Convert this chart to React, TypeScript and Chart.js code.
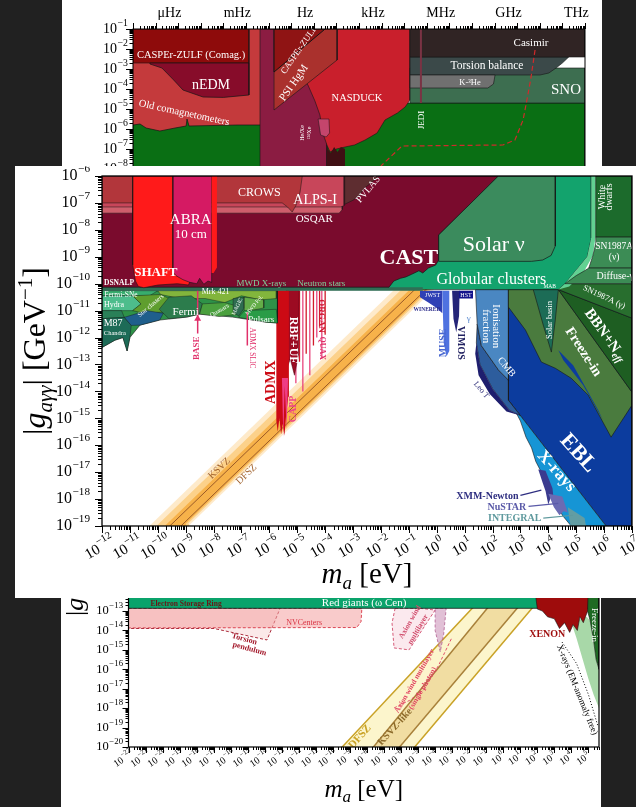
import React, { useEffect, useRef } from 'react';
import { Chart, registerables } from 'chart.js';

Chart.register(...registerables);

const SERIF = '"Liberation Serif", "DejaVu Serif", serif';

// =================== TOP PANEL (log10 m_a [eV], log10 |g_aN| ) ===================
const TOP_X = [-22, -2];
const TOP_Y = [-9, -1];
const HZ_TO_EV = 4.1357e-15;
const TOP_FREQ_EXP = [-6, -3, 0, 3, 6, 9, 12];
const TOP_FREQ_LABELS = ['μHz', 'mHz', 'Hz', 'kHz', 'MHz', 'GHz', 'THz'];

const OLD_COMAG = [[-22, -1], [-16.38, -1], [-16.38, -6.5], [-22, -6.5]];
const GREEN_TOP = [[-22, -5.8], [-21.69, -5.75], [-21.42, -5.95], [-20.81, -6.1], [-20.14, -5.95], [-19.65, -5.85], [-19.61, -5.5], [-19.52, -5.85], [-17.4, -5.8], [-16.38, -5.8], [-12.97, -5.8], [-9.96, -4.7], [-2, -4.7], [-2, -10], [-22, -10]];
const CASPER_COMAG = [[-22, -1], [-16.87, -1], [-16.87, -2.7], [-22, -2.7]];
const NEDM = [[-21.25, -2.7], [-16.87, -2.7], [-16.87, -4.3], [-18.0, -4.42], [-18.9, -4.4], [-19.79, -4.05], [-20.2, -3.55], [-20.72, -2.95], [-21.25, -2.75]];
const XE_BAR = [[-16.38, -1], [-13.42, -1], [-13.42, -10], [-16.38, -10]];
const NASDUCK = [[-12.97, -1], [-9.74, -1], [-9.74, -4.55], [-9.96, -4.9], [-10.3, -5.2], [-10.85, -5.55], [-11.2, -6.2], [-11.73, -6.55], [-12.2, -6.8], [-12.62, -6.9], [-13.0, -7.0], [-13.28, -7.15], [-13.42, -6.8], [-13.6, -6.2], [-13.73, -5.3], [-13.95, -4.6], [-14.26, -3.8], [-14.43, -3.55], [-14.26, -2.55], [-12.97, -2.55]];
const PINK_BLOB = [[-13.81, -5.5], [-13.33, -5.5], [-13.3, -6.2], [-13.45, -6.4], [-13.7, -6.3]];
const DARK_JAG = [[-13.42, -6.95], [-13.25, -7.2], [-13.1, -6.9], [-12.95, -7.15], [-12.8, -6.9], [-12.62, -7.0], [-12.62, -9], [-13.42, -9]];
const PSI_HGM = [[-15.76, -1], [-12.97, -1], [-12.97, -2.55], [-15.76, -5.05]];
const CASPER_ZULF = [[-15.76, -1], [-13.5, -1], [-15.76, -3.15]];
const SNO = [[-9.74, -2.95], [-2, -2.95], [-2, -4.7], [-9.74, -4.7]];
const TORSION = [[-9.74, -2.4], [-2.72, -2.4], [-3.0, -2.7], [-3.28, -2.95], [-3.6, -3.2], [-3.99, -3.3], [-9.74, -3.3]];
const K3HE = [[-9.74, -3.3], [-5.98, -3.3], [-6.05, -3.75], [-6.3, -3.95], [-9.74, -3.95]];
const CASIMIR_REGION = [[-9.74, -1], [-2, -1], [-2, -2.4], [-9.74, -2.4]];
const JEDI = [[-9.26, -1], [-9.26, -4.7]];
const CASIMIR_DASH = [[-4.21, -2.05], [-4.4, -3.5], [-4.57, -4.55], [-4.74, -5.55], [-5.1, -6.55], [-5.63, -6.8], [-10.1, -6.85], [-11.03, -7.85]];

// =================== MIDDLE PANEL (log10 m_a [eV], log10 |g_aγγ| [GeV^-1]) ===================
const MID_X = [-12, 7];
const MID_Y = [-19, -6];

const AXION_GLOW = [[-11, -19.7], [0, -8.7], [0, -10.1], [-9, -19.1]];
const AXION_MID = [[-11, -19.95], [0, -8.95], [0, -10.0], [-8.9, -18.9], [-8.8, -19.2]];
const AXION_CORE = [[-11, -20.25], [0, -9.25], [0, -9.92], [-9.0, -18.92], [-8.9, -19.2]];
const KSVZ_LINE = [[-10, -19.43], [0, -9.43]];
const DFSZ_LINE = [[-10, -19.83], [0, -9.83]];
const HALO_LINES = [[-5.05, -13.7], [-4.92, -12.9], [-4.8, -14.0], [-4.68, -12.6], [-4.55, -13.4], [-4.42, -12.3], [-4.3, -12.0], [-4.2, -11.6], [-4.12, -12.8], [-4.0, -11.9]];
const RBF_UF = [[-5.39, -10.24], [-5.39, -13.2], [-5.25, -12.8], [-5.1, -13.4], [-4.95, -12.6], [-4.93, -10.24]];
const ADMX = [[-5.75, -10.24], [-5.75, -15.1], [-5.7, -15.5], [-5.64, -15.0], [-5.58, -15.6], [-5.52, -15.2], [-5.46, -15.65], [-5.4, -14.9], [-5.32, -14.2], [-5.3, -10.24]];
const CAPP = [[-5.55, -13.5], [-5.5, -15.7], [-5.45, -13.8], [-5.38, -15.4], [-5.33, -13.5]];
const EBL = [[2.57, -10.22], [7, -10.22], [7, -19], [6.07, -19], [2.57, -14.33]];
const XRAYS = [[2.57, -14.33], [6.07, -19], [4.82, -19], [4.5, -18.6], [4.3, -18.1], [4.0, -17.6], [3.75, -17.0], [3.55, -16.6], [3.4, -16.1], [3.2, -15.7], [3.0, -15.1], [2.75, -14.6]];
const XMM = [[3.64, -16.9], [3.9, -16.95], [4.15, -17.6], [4.2, -18.1], [4.1, -17.9], [4.0, -18.2], [3.9, -17.7], [3.8, -17.4]];
const NUSTAR = [[4.0, -17.8], [4.5, -17.9], [4.7, -18.5], [4.55, -18.45], [4.4, -18.6], [4.2, -18.3]];
const INTEGRAL = [[4.7, -18.3], [5.3, -18.7], [5.35, -19], [4.8, -19], [4.75, -18.7]];
const CMB = [[1.45, -11.5], [1.6, -12.3], [2.21, -13.2], [2.57, -13.58], [2.57, -14.33], [3.0, -14.9], [2.6, -14.7], [2.0, -13.9], [1.55, -13.0], [1.42, -12.2]];
const LEO_T = [[1.42, -12.2], [1.55, -13.0], [2.0, -13.9], [2.6, -14.7], [3.0, -14.9], [2.5, -14.75], [1.9, -14.1], [1.5, -13.4], [1.38, -12.6]];
const IONIS = [[1.39, -10.22], [2.57, -10.22], [2.57, -13.58], [2.21, -13.2], [1.6, -12.3], [1.45, -11.5]];
const OLIVE = [[2.57, -10.22], [4.36, -10.22], [7, -14.03], [7, -14.51], [6.25, -15.7], [5.43, -14.14], [4.82, -13.51], [4.25, -13.14], [3.75, -12.91], [3.18, -11.72], [2.57, -10.87]];
const EBL_SLIVER = [[4.36, -12.47], [4.89, -13.03], [5.79, -14.7], [5.96, -15.07], [5.25, -13.77], [4.54, -12.84]];
const SOLAR_BASIN = [[3.46, -10.22], [4.36, -10.22], [4.25, -11.35], [4.11, -12.54], [3.82, -11.54]];
const BBN = [[4.36, -10.22], [7, -11.28], [7, -14.03]];
const SN_GAMMA = [[4.55, -10.0], [7, -10.0], [7, -11.28], [4.36, -10.22]];
const JWST = [[-0.6, -10.26], [0.2, -10.26], [0.2, -11.1], [0.0, -10.9], [-0.3, -10.7], [-0.6, -10.5]];
const MUSE = [[0.2, -10.26], [0.45, -10.26], [0.45, -12.5], [0.35, -12.7], [0.25, -12.2]];
const VIMOS = [[0.55, -10.26], [0.82, -10.26], [0.8, -11.2], [0.7, -11.8], [0.6, -11.3]];
const HST = [[0.8, -10.26], [1.3, -10.26], [1.3, -10.55], [0.8, -10.55]];
const ASTRO_BASE = [[-12, -10.26], [-5.71, -10.26], [-5.71, -11.46], [-6.11, -11.43], [-7.32, -11.24], [-8.5, -11.13], [-8.96, -11.24], [-9.93, -11.35], [-10.64, -11.54], [-11.0, -12.0], [-11.1, -12.5], [-11.25, -12.0], [-11.54, -12.1], [-12, -12.37]];
const MRK421 = [[-10.0, -10.26], [-5.75, -10.26], [-5.75, -10.55], [-6.3, -10.6], [-7.0, -10.45], [-7.6, -10.7], [-8.3, -10.55], [-9.2, -10.55], [-9.9, -10.4]];
const FERMI_SNE = [[-12, -10.26], [-10.0, -10.26], [-10.3, -10.45], [-12, -10.45]];
const HYDRA = [[-12, -10.45], [-10.9, -10.45], [-10.6, -10.75], [-10.9, -11.0], [-12, -11.0]];
const STAR_CLUSTERS = [[-10.9, -10.45], [-9.9, -10.4], [-9.5, -10.6], [-9.8, -11.05], [-10.5, -11.1], [-10.9, -11.0], [-10.6, -10.75]];
const FERMI = [[-9.6, -10.5], [-8.8, -10.45], [-8.4, -10.75], [-8.5, -11.13], [-8.96, -11.24], [-9.6, -11.3], [-9.95, -10.95]];
const QUASARS = [[-8.4, -10.75], [-7.6, -10.7], [-7.1, -10.85], [-7.2, -11.15], [-7.8, -11.22], [-8.5, -11.13]];
const MAGIC = [[-7.3, -10.55], [-6.9, -10.5], [-6.9, -10.9], [-7.1, -11.2], [-7.3, -11.05]];
const MWD_POL = [[-6.9, -10.5], [-6.2, -10.6], [-6.2, -10.9], [-6.9, -11.05]];
const PULSARS = [[-6.9, -11.0], [-5.75, -10.95], [-5.71, -11.46], [-6.11, -11.43], [-7.1, -11.25]];
const M87 = [[-12, -11.0], [-11.3, -11.0], [-11.2, -11.25], [-12, -11.3]];
const CHANDRA = [[-12, -11.3], [-11.2, -11.25], [-10.95, -11.55], [-11.0, -12.0], [-11.1, -12.5], [-11.25, -12.0], [-11.54, -12.1], [-12, -12.37]];
const AGN = [[-11.2, -11.25], [-10.4, -11.0], [-9.8, -11.1], [-9.93, -11.35], [-10.64, -11.54], [-10.95, -11.55]];
const GLOBULAR = [[-12, -6], [5.54, -6], [5.54, -8.3], [5.4, -9.0], [5.0, -9.5], [4.6, -10.0], [4.36, -10.22], [-12, -10.22]];
const STRIPE = [[5.54, -6], [5.7, -6], [5.7, -8.2], [5.6, -8.95], [5.25, -9.6], [4.75, -10.1], [4.36, -10.22], [4.6, -10.0], [5.0, -9.5], [5.4, -9.0], [5.54, -8.3]];
const WHITE_DWARFS = [[5.7, -6], [7, -6], [7, -8.27], [5.7, -8.27]];
const SN_NU = [[5.7, -8.27], [7, -8.27], [7, -9.42], [5.45, -9.42], [5.6, -8.95], [5.7, -8.5]];
const DIFFUSE = [[5.45, -9.42], [7, -9.42], [7, -10.0], [4.6, -10.0], [5.0, -9.7], [5.25, -9.55]];
const BAND_NS = [[-12, -10.13], [-0.5, -10.13], [-0.5, -10.26], [-12, -10.26]];
const CAST = [[-12, -6], [2.21, -6], [0.07, -8.19], [0.07, -9.12], [-0.04, -9.31], [-0.3, -9.42], [-0.5, -9.6], [-0.64, -9.52], [-0.9, -9.65], [-1.11, -9.75], [-1.3, -9.8], [-1.54, -9.9], [-1.71, -10.13], [-12, -10.13]];
const SOLAR_NU = [[0.07, -8.19], [2.21, -6], [4.25, -6], [4.25, -8.6], [4.1, -8.95], [3.8, -9.12], [3.4, -9.17], [0.07, -9.17]];
const OSQAR = [[-12, -6], [-3.39, -6], [-3.39, -7.25], [-3.5, -7.38], [-12, -7.38]];
const ALPS = [[-12, -6], [-3.32, -6], [-3.32, -7.1], [-3.45, -7.15], [-12, -7.15]];
const CROWS = [[-12, -6], [-4.82, -6], [-4.9, -6.6], [-5.05, -7.1], [-5.18, -7.34], [-5.35, -7.15], [-5.54, -7.0], [-12, -7.0]];
const PVLAS = [[-3.3, -6], [-2.07, -6], [-2.4, -6.3], [-2.6, -6.45], [-2.8, -6.75], [-3.0, -6.9], [-3.3, -7.05]];
const SHAFT = [[-10.9, -6], [-10.9, -9.3], [-10.8, -9.9], [-10.7, -10.1], [-10.5, -10.15], [-10.0, -10.05], [-9.3, -10.0], [-8.9, -10.05], [-8.8, -9.8], [-8.8, -6]];
const ABRA = [[-9.46, -6], [-9.46, -9.55], [-9.35, -9.7], [-9.1, -9.85], [-8.85, -9.95], [-8.6, -10.0], [-8.5, -9.8], [-8.35, -10.02], [-8.2, -9.9], [-8.07, -9.95], [-8.07, -6]];
const SLIVER = [[-8.07, -6], [-7.88, -6], [-7.88, -9.4], [-8.0, -9.6], [-8.07, -9.6]];
const BASE_LINE = [[-8.57, -10.26], [-8.57, -11.85]];
const BASE_ARROW = [[-8.57, -11.3]];
const SLIC_LINE = [[-6.79, -11.05], [-6.79, -12.3]];
const XMM_LEAD = [[3.0, -17.86], [3.75, -17.67]];
const NUSTAR_LEAD = [[3.29, -18.27], [4.36, -18.16]];
const INTEGRAL_LEAD = [[3.82, -18.71], [4.89, -18.6]];

// =================== BOTTOM PANEL (log10 m_a [eV], log10 |g_ae|) ===================
const BOT_X = [-22, 5.62];
const BOT_Y = [-20, -12];
const DFSZ_BAND = [[-9.99, -20.5], [-0.9, -12], [2.52, -12], [-5.68, -20.5]];
const KSVZ_BAND = [[-8.09, -20.5], [-0.13, -12], [1.65, -12], [-6.57, -20.5]];
const LINE_A = [[-9.99, -20.5], [-0.9, -12]];
const LINE_B = [[-8.09, -20.5], [-0.13, -12]];
const LINE_C = [[-6.57, -20.5], [1.65, -12]];
const LINE_D = [[-5.68, -20.5], [2.52, -12]];
const TORSION_P = [[-22, -12.86], [-13.1, -12.86], [-13.87, -14.49], [-16.98, -13.9], [-22, -13.9]];
const NV_CENTERS = [[-22, -12.86], [-8.3, -12.86], [-8.35, -13.55], [-8.6, -13.85], [-22, -13.87]];
const AXION_WIND = [[-6.35, -12.86], [-4.88, -12.86], [-4.0, -12.95], [-5.53, -15.0], [-6.41, -14.9], [-6.53, -13.62]];
const PURPLE = [[-4.0, -12.86], [-3.35, -12.86], [-3.5, -14.2], [-3.7, -15.1], [-4.0, -14.0]];
const AXION_WIND_SP = [[-6.41, -17.99], [-5.5, -17.6], [-4.65, -17.05], [-3.8, -15.8], [-3.0, -14.34]];
const RED_GIANTS = [[-22, -11.5], [5.62, -11.5], [5.62, -12.86], [-22, -12.86]];
const XRAYS_B = [[4.0, -13.6], [4.9, -13.3], [5.1, -13.5], [5.3, -14.5], [5.45, -15.5], [5.62, -16.0], [5.62, -18.0], [5.3, -17.3], [5.0, -16.5], [4.6, -15.3], [4.3, -14.4]];
const FREEZE_B = [[4.9, -11.5], [5.62, -11.5], [5.62, -16.0], [5.45, -15.5], [5.3, -14.5], [5.1, -13.5], [4.95, -13.0]];
const XRAYS_DOT = [[3.45, -14.6], [4.3, -15.7], [5.0, -17.3], [5.57, -18.96]];
const XENON = [[1.8, -11.5], [5.0, -11.5], [4.95, -13.0], [4.7, -13.6], [4.5, -13.3], [4.35, -14.0], [4.1, -13.7], [3.9, -14.1], [3.6, -13.6], [3.3, -13.9], [3.0, -13.4], [2.6, -13.3], [2.3, -13.0], [2.0, -12.9]];

// ---------------- types & helpers ----------------
type Region = { d: number[][]; f?: string; b?: string; w?: number; dash?: number[]; pt?: string; pr?: number };
type Lab = { t: string; x: number; y: number; s: number; c?: string; r?: number; b?: boolean; al?: string; sub?: string; it?: boolean };
type Part = { t: string; s: number; it?: boolean; dy?: number };

const B = '#151515';

const TOP_REGIONS: Region[] = [
  { d: OLD_COMAG, f: '#c43a3c' },
  { d: GREEN_TOP, f: '#0a6f14', b: B, w: 0.7 },
  { d: CASPER_COMAG, f: '#8e0b0b', b: B, w: 0.6 },
  { d: NEDM, f: '#870c2a', b: B, w: 0.7 },
  { d: XE_BAR, f: '#8b1c42', b: B, w: 0.6 },
  { d: NASDUCK, f: '#c91f2c', b: B, w: 0.6 },
  { d: PINK_BLOB, f: '#c4456c', b: B, w: 0.5 },
  { d: DARK_JAG, f: '#3f0f14' },
  { d: PSI_HGM, f: '#aa312d', b: B, w: 0.6 },
  { d: CASPER_ZULF, f: '#8f1414', b: B, w: 1 },
  { d: SNO, f: '#3d6e50', b: B, w: 0.6 },
  { d: TORSION, f: '#3b4949', b: B, w: 0.6 },
  { d: K3HE, f: '#707070', b: B, w: 0.6 },
  { d: CASIMIR_REGION, f: '#302424', b: B, w: 0.6 },
  { d: JEDI, b: '#7a3344', w: 2 },
  { d: CASIMIR_DASH, b: '#d02a2a', w: 1.2, dash: [5, 3] },
];

const MID_REGIONS: Region[] = [
  { d: AXION_GLOW, f: 'rgba(253,214,150,0.5)' },
  { d: AXION_MID, f: 'rgba(250,192,95,0.6)' },
  { d: AXION_CORE, f: '#f7b24a' },
  { d: KSVZ_LINE, b: '#9a5a28', w: 1 },
  { d: DFSZ_LINE, b: '#9a5a28', w: 1 },
  ...HALO_LINES.map((h, i) => ({ d: [[h[0], -10.26], [h[0], h[1]]], b: i % 2 ? '#d11a2a' : '#e8457d', w: 1.3 })),
  { d: RBF_UF, f: '#9c0b22', b: '#4a0010', w: 0.5 },
  { d: ADMX, f: '#cc0a14' },
  { d: CAPP, f: '#ee3d84' },
  { d: EBL, f: '#0c3c9e', b: B, w: 0.6 },
  { d: XRAYS, f: '#1695d5', b: B, w: 0.6 },
  { d: XMM, f: '#3b3b8f' },
  { d: NUSTAR, f: '#6b6bb3' },
  { d: INTEGRAL, f: '#629da3' },
  { d: CMB, f: '#2d5d9d', b: B, w: 0.6 },
  { d: LEO_T, f: '#1e1e6e' },
  { d: IONIS, f: '#4a87c2', b: B, w: 0.6 },
  { d: OLIVE, f: '#4a7b3e', b: B, w: 0.6 },
  { d: EBL_SLIVER, f: '#0c3c9e' },
  { d: SOLAR_BASIN, f: '#1c6c56', b: B, w: 0.6 },
  { d: BBN, f: '#1e5e22', b: B, w: 0.6 },
  { d: SN_GAMMA, f: '#286e2e', b: B, w: 0.6 },
  { d: JWST, f: '#2f40b5' },
  { d: MUSE, f: '#4f72e0' },
  { d: VIMOS, f: '#252578' },
  { d: HST, f: '#12128c' },
  { d: ASTRO_BASE, f: '#2e9248', b: B, w: 0.6 },
  { d: MRK421, f: '#82b53c', b: B, w: 0.4 },
  { d: FERMI_SNE, f: '#38ad6e', b: B, w: 0.4 },
  { d: HYDRA, f: '#4dbd8c', b: B, w: 0.4 },
  { d: STAR_CLUSTERS, f: '#5f9e2e', b: B, w: 0.4 },
  { d: FERMI, f: '#2c7c4c', b: B, w: 0.4 },
  { d: QUASARS, f: '#4aa03e', b: B, w: 0.4 },
  { d: MAGIC, f: '#2e6d50', b: B, w: 0.4 },
  { d: MWD_POL, f: '#63ad48', b: B, w: 0.4 },
  { d: PULSARS, f: '#2a9c47', b: B, w: 0.4 },
  { d: M87, f: '#2a8058', b: B, w: 0.4 },
  { d: CHANDRA, f: '#1d6b57', b: B, w: 0.4 },
  { d: AGN, f: '#1f5f8c', b: B, w: 0.4 },
  { d: GLOBULAR, f: '#13a36d', b: B, w: 0.6 },
  { d: STRIPE, f: '#62d192' },
  { d: WHITE_DWARFS, f: '#1c6b2c', b: B, w: 0.6 },
  { d: SN_NU, f: '#3c8c55', b: B, w: 0.6 },
  { d: DIFFUSE, f: '#3c8c55', b: B, w: 0.6 },
  { d: BAND_NS, f: '#2f6f55' },
  { d: CAST, f: '#7a0b2d', b: B, w: 0.7 },
  { d: SOLAR_NU, f: '#3b8b5d', b: B, w: 0.7 },
  { d: OSQAR, f: '#cf5e6c', b: B, w: 0.5 },
  { d: ALPS, f: '#c8465a', b: B, w: 0.5 },
  { d: CROWS, f: '#b2363b', b: B, w: 0.5 },
  { d: PVLAS, f: '#5e2d30', b: B, w: 0.5 },
  { d: SHAFT, f: '#ff1a1a', b: B, w: 0.6 },
  { d: ABRA, f: '#d51a63', b: B, w: 0.6 },
  { d: SLIVER, f: '#ff1a1a' },
  { d: BASE_LINE, b: '#e0306a', w: 1.5 },
  { d: BASE_ARROW, b: '#e0306a', pt: 'triangle', pr: 4 },
  { d: SLIC_LINE, b: '#e0306a', w: 1.5 },
  { d: XMM_LEAD, b: '#2e2e80', w: 1.2 },
  { d: NUSTAR_LEAD, b: '#5a5aa8', w: 1.2 },
  { d: INTEGRAL_LEAD, b: '#5f9a9e', w: 1.2 },
];

const BOT_REGIONS: Region[] = [
  { d: DFSZ_BAND, f: '#fcf5cc' },
  { d: KSVZ_BAND, f: '#f1dda2' },
  { d: LINE_A, b: '#c9a227', w: 1.5 },
  { d: LINE_D, b: '#c9a227', w: 1.5 },
  { d: LINE_B, b: '#a8803a', w: 1.5 },
  { d: LINE_C, b: '#a8803a', w: 1.5 },
  { d: TORSION_P, f: 'rgba(250,225,225,0.75)', b: '#a3182a', w: 0.9, dash: [3, 2] },
  { d: NV_CENTERS, f: 'rgba(244,160,160,0.55)', b: '#d83545', w: 0.9, dash: [3, 2] },
  { d: AXION_WIND, f: 'rgba(250,225,232,0.75)', b: '#d04a6a', w: 0.9, dash: [3, 2] },
  { d: PURPLE, f: 'rgba(200,140,180,0.55)', b: '#b06090', w: 0.8, dash: [3, 2] },
  { d: AXION_WIND_SP, b: '#e04060', w: 0.9, dash: [3, 2] },
  { d: RED_GIANTS, f: '#0aa36b', b: B, w: 0.8 },
  { d: XRAYS_B, f: '#a8d8a8' },
  { d: FREEZE_B, f: '#1e6a23', b: B, w: 0.6 },
  { d: XRAYS_DOT, b: '#000', w: 1, dash: [1, 2] },
  { d: XENON, f: '#9e0c0c', b: B, w: 0.6 },
];

const TOP_LABELS: Lab[] = [
  { t: 'CASPEr-ZULF (Comag.)', x: -19.43, y: -2.3, s: 10.5 },
  { t: 'nEDM', x: -18.55, y: -3.8, s: 14 },
  { t: 'Old comagnetometers', x: -19.74, y: -5.2, s: 10.5, r: 12 },
  { t: 'CASPEr-ZULF', x: -14.65, y: -2.05, s: 9, r: -55 },
  { t: 'PSI HgM', x: -14.88, y: -3.7, s: 11, r: -55 },
  { t: 'NASDUCK', x: -12.09, y: -4.45, s: 10.5 },
  { t: 'JEDI', x: -9.21, y: -5.55, s: 9, r: -90 },
  { t: 'Casimir', x: -4.39, y: -1.7, s: 11 },
  { t: 'Torsion balance', x: -6.34, y: -2.85, s: 11.5 },
  { t: 'K-³He', x: -7.09, y: -3.7, s: 8.5 },
  { t: 'SNO', x: -2.84, y: -4.05, s: 15 },
  { t: 'He/Xe', x: -14.5, y: -6.2, s: 6, r: -90 },
  { t: '¹²⁹Xe', x: -14.2, y: -6.2, s: 6, r: -90 },
];

const MID_LABELS: Lab[] = [
  { t: 'CROWS', x: -6.36, y: -6.62, s: 12 },
  { t: 'ALPS-I', x: -4.36, y: -6.9, s: 14 },
  { t: 'OSQAR', x: -4.39, y: -7.6, s: 11 },
  { t: 'PVLAS', x: -2.45, y: -6.5, s: 10, r: -50 },
  { t: 'CAST', x: -1.0, y: -9.05, s: 22, b: true },
  { t: 'Solar ν', x: 2.04, y: -8.57, s: 22 },
  { t: 'Globular clusters', x: 1.96, y: -9.85, s: 16 },
  { t: 'White', x: 5.93, y: -6.78, s: 10, r: -90 },
  { t: 'dwarfs', x: 6.18, y: -6.78, s: 10, r: -90 },
  { t: 'SN1987A', x: 6.36, y: -8.62, s: 9.5 },
  { t: '(ν)', x: 6.36, y: -9.02, s: 9.5 },
  { t: 'Diffuse-γ', x: 6.4, y: -9.72, s: 10 },
  { t: 'SN1987A (γ)', x: 6.0, y: -10.5, s: 8.5, r: 25 },
  { t: 'BBN+N', sub: 'eff', x: 6.04, y: -11.91, s: 15, b: true, r: 54 },
  { t: 'Freeze-in', x: 5.25, y: -12.54, s: 14, b: true, r: 57 },
  { t: 'Solar basin', x: 4.04, y: -11.35, s: 8.5, r: -90 },
  { t: 'MAB', x: 4.05, y: -10.1, s: 5.5 },
  { t: 'Ionisation', x: 2.11, y: -11.58, s: 11, r: 90 },
  { t: 'fraction', x: 1.75, y: -11.58, s: 11, r: 90 },
  { t: 'CMB', x: 2.5, y: -13.1, s: 10, r: 50 },
  { t: 'Leo T', x: 1.6, y: -13.95, s: 8, r: 50, c: '#1f1f70' },
  { t: 'EBL', x: 5.07, y: -16.3, s: 22, b: true, r: 48 },
  { t: 'X-rays', x: 4.29, y: -16.97, s: 17, b: true, r: 48 },
  { t: 'XMM-Newton', x: 2.93, y: -17.9, s: 10, b: true, c: '#2e2e80', al: 'right' },
  { t: 'NuSTAR', x: 3.21, y: -18.3, s: 10, b: true, c: '#5a5aa8', al: 'right' },
  { t: 'INTEGRAL', x: 3.75, y: -18.71, s: 10, b: true, c: '#5f9a9e', al: 'right' },
  { t: 'MUSE', x: 0.25, y: -12.2, s: 10, r: -90, c: '#4a68d0', b: true },
  { t: 'VIMOS', x: 0.85, y: -12.2, s: 10, r: 90, c: '#202060', b: true },
  { t: 'JWST', x: -0.15, y: -10.42, s: 6 },
  { t: 'HST', x: 1.05, y: -10.42, s: 6 },
  { t: 'WINERED', x: -0.35, y: -10.98, s: 5.5, c: '#2a2a8a', b: true },
  { t: 'γ', x: 1.15, y: -11.3, s: 9, c: '#5a8ad0' },
  { t: 'SHAFT', x: -10.07, y: -9.6, s: 13, b: true },
  { t: 'ABRA', x: -8.82, y: -7.64, s: 15 },
  { t: '10 cm', x: -8.82, y: -8.16, s: 13 },
  { t: 'DSNALP', x: -11.39, y: -9.98, s: 7.5, b: true },
  { t: 'MWD X-rays', x: -6.29, y: -9.98, s: 9, c: '#7fd49d' },
  { t: 'Neutron stars', x: -4.14, y: -9.98, s: 9, c: '#7fd49d' },
  { t: 'Fermi-SNe', x: -11.32, y: -10.42, s: 7.5 },
  { t: 'Hydra', x: -11.57, y: -10.8, s: 8 },
  { t: 'Star clusters', x: -10.25, y: -10.82, s: 6.5, r: -40 },
  { t: 'M87', x: -11.6, y: -11.47, s: 10 },
  { t: 'Chandra', x: -11.54, y: -11.84, s: 6.5 },
  { t: 'Mrk 421', x: -7.93, y: -10.31, s: 8 },
  { t: 'Fermi', x: -9.0, y: -11.06, s: 11 },
  { t: 'Quasars', x: -7.79, y: -11.0, s: 6.5, r: -30 },
  { t: 'MAGIC', x: -7.15, y: -10.85, s: 5.5, r: -65 },
  { t: 'MWD Pol.', x: -6.54, y: -10.8, s: 5.5, r: -50 },
  { t: 'Pulsars', x: -6.29, y: -11.35, s: 9 },
  { t: 'BASE', x: -8.6, y: -12.4, s: 9, r: -90, c: '#e0306a', b: true },
  { t: 'ADMX SLIC', x: -6.62, y: -12.39, s: 7.5, r: 90, c: '#e0306a' },
  { t: 'ADMX', x: -5.93, y: -13.66, s: 14, r: -90, c: '#cc0a14', b: true },
  { t: 'CAPP', x: -5.15, y: -14.65, s: 10, r: -90, c: '#ee4488', b: true },
  { t: 'RBF+UF', x: -5.15, y: -12.1, s: 12, r: 90, b: true },
  { t: 'ORGAN', x: -4.14, y: -11.2, s: 9, r: 90, c: '#d01830', b: true },
  { t: 'QUAX', x: -4.1, y: -12.4, s: 8, r: 90, c: '#e0306a', b: true },
  { t: 'KSVZ', x: -7.79, y: -16.86, s: 10, r: -44, c: '#a0622d' },
  { t: 'DFSZ', x: -6.82, y: -17.08, s: 10, r: -44, c: '#a0622d' },
];

const BOT_LABELS: Lab[] = [
  { t: 'Red giants (ω Cen)', x: -8.17, y: -12.6, s: 11 },
  { t: 'Electron Storage Ring', x: -18.62, y: -12.62, s: 7.5, b: true, c: '#6a1616' },
  { t: 'NVCenters', x: -11.69, y: -13.62, s: 8, c: '#d83545' },
  { t: 'Torsion', x: -15.2, y: -14.45, s: 8, r: 15, c: '#a3182a', b: true },
  { t: 'pendulum', x: -14.9, y: -14.95, s: 8, r: 15, c: '#a3182a', b: true },
  { t: 'Axion wind', x: -5.47, y: -13.57, s: 7.5, r: -60, c: '#d04a6a', b: true },
  { t: 'multilayer', x: -5.0, y: -13.95, s: 7.5, r: -60, c: '#d04a6a', b: true },
  { t: 'Axion wind multilayer', x: -5.2, y: -16.6, s: 7.5, r: -60, c: '#e04060', b: true },
  { t: '(single photon)', x: -4.72, y: -16.98, s: 7.5, r: -60, c: '#e04060', b: true },
  { t: 'DFSZ', x: -8.41, y: -19.48, s: 11, r: -48, c: '#c9a227', b: true },
  { t: 'KSVZ-like', x: -6.35, y: -18.96, s: 10, r: -48, c: '#8c6a2a', b: true },
  { t: 'XENON', x: 2.58, y: -14.23, s: 10, b: true, c: '#9e0c0c' },
  { t: 'X-rays (EM-anomaly free)', x: 4.33, y: -17.06, s: 9, r: 68, c: '#000' },
  { t: 'Freeze-in', x: 5.33, y: -13.72, s: 9, r: 90 },
];

// ---------------- drawing helpers ----------------
function toDataset(r: Region) {
  const pts = r.d.map(([a, b]) => ({ x: Math.pow(10, a), y: Math.pow(10, b) }));
  if (r.f && r.b) pts.push({ ...pts[0] });
  return {
    data: pts,
    fill: r.f ? 'shape' : false,
    backgroundColor: r.f || 'rgba(0,0,0,0)',
    borderColor: r.b || 'rgba(0,0,0,0)',
    borderWidth: r.b ? (r.w ?? 0.7) : 0,
    borderDash: r.dash || [],
    pointRadius: r.pr || 0,
    pointStyle: r.pt || 'circle',
    pointBackgroundColor: r.b || r.f || '#000',
    pointBorderWidth: 0,
    tension: 0,
  };
}

function drawLabel(ctx: CanvasRenderingContext2D, L: Lab, px: number, py: number) {
  const font = (s: number, it = false) => `${it || L.it ? 'italic ' : ''}${L.b ? 'bold ' : ''}${s}px ${SERIF}`;
  ctx.save();
  ctx.translate(px, py);
  if (L.r) ctx.rotate((L.r * Math.PI) / 180);
  ctx.font = font(L.s);
  const w1 = ctx.measureText(L.t).width;
  let w2 = 0;
  if (L.sub) {
    ctx.font = font(L.s * 0.65, true);
    w2 = ctx.measureText(L.sub).width;
  }
  const W = w1 + w2;
  const al = L.al || 'center';
  const x0 = al === 'center' ? -W / 2 : al === 'right' ? -W : 0;
  ctx.fillStyle = L.c || '#fff';
  ctx.textBaseline = 'middle';
  ctx.textAlign = 'left';
  ctx.font = font(L.s);
  ctx.fillText(L.t, x0, 0);
  if (L.sub) {
    ctx.font = font(L.s * 0.65, true);
    ctx.fillText(L.sub, x0 + w1, L.s * 0.3);
  }
  ctx.restore();
}

function drawPow(ctx: CanvasRenderingContext2D, n: number, x: number, y: number, base: number, align: string, rot: number) {
  const exp = n < 0 ? '−' + Math.abs(n) : String(n);
  const es = base * 0.7;
  ctx.font = `${base}px ${SERIF}`;
  const w1 = ctx.measureText('10').width;
  ctx.font = `${es}px ${SERIF}`;
  const w2 = ctx.measureText(exp).width;
  const W = w1 + w2 + 0.5;
  ctx.save();
  ctx.translate(x, y);
  ctx.rotate((-rot * Math.PI) / 180);
  const x0 = align === 'right' ? -W : -W / 2;
  ctx.textAlign = 'left';
  ctx.textBaseline = 'middle';
  ctx.fillStyle = '#000';
  ctx.font = `${base}px ${SERIF}`;
  ctx.fillText('10', x0, 0);
  ctx.font = `${es}px ${SERIF}`;
  ctx.fillText(exp, x0 + w1 + 0.5, -base * 0.42);
  ctx.restore();
}

function drawRich(ctx: CanvasRenderingContext2D, parts: Part[], x: number, y: number, rot: number, align: string) {
  const fnt = (p: Part) => `${p.it ? 'italic ' : ''}${p.s}px ${SERIF}`;
  let W = 0;
  const ws = parts.map((p) => {
    ctx.font = fnt(p);
    const w = ctx.measureText(p.t).width;
    W += w;
    return w;
  });
  ctx.save();
  ctx.translate(x, y);
  ctx.rotate((rot * Math.PI) / 180);
  let cx = align === 'center' ? -W / 2 : 0;
  ctx.textAlign = 'left';
  ctx.textBaseline = 'alphabetic';
  ctx.fillStyle = '#000';
  parts.forEach((p, i) => {
    ctx.font = fnt(p);
    ctx.fillText(p.t, cx, p.dy || 0);
    cx += ws[i];
  });
  ctx.restore();
}

type Panel = {
  w: number; h: number; xr: number[]; yr: number[]; pad: any; xH: number; yW: number; xPos: 'top' | 'bottom';
  regions: Region[]; labels: Lab[]; frame: number;
  tick: { xMaj: number; xMin: number; yMaj: number; yMin: number };
  decorate: (ctx: CanvasRenderingContext2D, chart: any) => void;
};

function drawTicks(ctx: CanvasRenderingContext2D, chart: any, p: Panel) {
  const a = chart.chartArea;
  const xs = chart.scales.x;
  const ys = chart.scales.y;
  ctx.strokeStyle = '#000';
  ctx.lineWidth = 1;
  ctx.beginPath();
  for (let n = Math.floor(p.xr[0]); n <= Math.ceil(p.xr[1]); n++) {
    for (let k = 1; k <= 9; k++) {
      const lv = n + Math.log10(k);
      if (lv < p.xr[0] - 1e-6 || lv > p.xr[1] + 1e-6) continue;
      const px = Math.round(xs.getPixelForValue(k * Math.pow(10, n))) + 0.5;
      const L = k === 1 ? p.tick.xMaj : p.tick.xMin;
      if (p.xPos === 'top') { ctx.moveTo(px, a.top); ctx.lineTo(px, a.top - L); }
      else { ctx.moveTo(px, a.bottom); ctx.lineTo(px, a.bottom + L); }
    }
  }
  for (let n = Math.floor(p.yr[0]); n <= Math.ceil(p.yr[1]); n++) {
    for (let k = 1; k <= 9; k++) {
      const lv = n + Math.log10(k);
      if (lv < p.yr[0] - 1e-6 || lv > p.yr[1] + 1e-6) continue;
      const py = Math.round(ys.getPixelForValue(k * Math.pow(10, n))) + 0.5;
      const L = k === 1 ? p.tick.yMaj : p.tick.yMin;
      ctx.moveTo(a.left, py);
      ctx.lineTo(a.left - L, py);
    }
  }
  ctx.stroke();
}

function decorPlugin(p: Panel) {
  return {
    id: 'decor',
    afterDatasetsDraw(chart: any) {
      const ctx = chart.ctx;
      const xs = chart.scales.x;
      const ys = chart.scales.y;
      const a = chart.chartArea;
      ctx.save();
      ctx.beginPath();
      ctx.rect(a.left, a.top, a.right - a.left, a.bottom - a.top);
      ctx.clip();
      for (const L of p.labels) drawLabel(ctx, L, xs.getPixelForValue(Math.pow(10, L.x)), ys.getPixelForValue(Math.pow(10, L.y)));
      ctx.restore();
    },
    afterDraw(chart: any) {
      const ctx = chart.ctx;
      const a = chart.chartArea;
      ctx.save();
      ctx.strokeStyle = '#000';
      ctx.lineWidth = p.frame;
      ctx.strokeRect(a.left, a.top, a.right - a.left, a.bottom - a.top);
      drawTicks(ctx, chart, p);
      p.decorate(ctx, chart);
      ctx.restore();
    },
  };
}

function buildChart(canvas: HTMLCanvasElement, p: Panel) {
  const datasets = p.regions.map(toDataset).reverse();
  const axis = (range: number[], isX: boolean) => ({
    type: 'logarithmic',
    position: isX ? p.xPos : 'left',
    min: Math.pow(10, range[0]),
    max: Math.pow(10, range[1]),
    grid: { display: false },
    ticks: { display: false },
    border: { display: false },
    afterFit: (s: any) => {
      if (isX) s.height = p.xH;
      else s.width = p.yW;
    },
  });
  return new Chart(canvas, {
    type: 'line',
    data: { datasets: datasets as any },
    options: {
      animation: false,
      responsive: false,
      devicePixelRatio: 1,
      events: [],
      layout: { padding: p.pad },
      plugins: { legend: { display: false }, tooltip: { enabled: false } },
      scales: { x: axis(p.xr, true) as any, y: axis(p.yr, false) as any },
    },
    plugins: [decorPlugin(p)],
  });
}

// ---------------- panels ----------------
const topPanel: Panel = {
  w: 540, h: 200, xr: TOP_X, yr: TOP_Y, pad: { top: 0, right: 17, bottom: 11, left: 0 }, xH: 29, yW: 71, xPos: 'top',
  regions: TOP_REGIONS, labels: TOP_LABELS, frame: 1,
  tick: { xMaj: 6, xMin: 3, yMaj: 7, yMin: 3.5 },
  decorate: (ctx, chart) => {
    const a = chart.chartArea;
    const xs = chart.scales.x;
    const ys = chart.scales.y;
    for (let n = TOP_Y[1]; n >= TOP_Y[0]; n--) drawPow(ctx, n, a.left - 5, ys.getPixelForValue(Math.pow(10, n)), 14, 'right', 0);
    ctx.fillStyle = '#000';
    ctx.font = `14px ${SERIF}`;
    ctx.textAlign = 'center';
    ctx.textBaseline = 'alphabetic';
    TOP_FREQ_EXP.forEach((e, i) => {
      ctx.fillText(TOP_FREQ_LABELS[i], xs.getPixelForValue(Math.pow(10, e) * HZ_TO_EV), 17);
    });
  },
};

const midPanel: Panel = {
  w: 621, h: 432, xr: MID_X, yr: MID_Y, pad: { top: 10, right: 2, bottom: 0, left: 0 }, xH: 72, yW: 87, xPos: 'bottom',
  regions: MID_REGIONS, labels: MID_LABELS, frame: 1.3,
  tick: { xMaj: 7, xMin: 4, yMaj: 7, yMin: 4 },
  decorate: (ctx, chart) => {
    const a = chart.chartArea;
    const xs = chart.scales.x;
    const ys = chart.scales.y;
    for (let n = MID_X[0]; n <= MID_X[1]; n++) drawPow(ctx, n, xs.getPixelForValue(Math.pow(10, n)) - 2, a.bottom + 22, 15, 'center', 30);
    for (let n = MID_Y[0]; n <= MID_Y[1]; n++) drawPow(ctx, n, a.left - 12, ys.getPixelForValue(Math.pow(10, n)), 16, 'right', 0);
    drawRich(ctx, [
      { t: '|', s: 32 }, { t: 'g', s: 32, it: true }, { t: 'aγγ', s: 21, it: true, dy: 7 },
      { t: '| [GeV', s: 32 }, { t: '−1', s: 21, dy: -13 }, { t: ']', s: 32 },
    ], 30, (a.top + a.bottom) / 2, -90, 'center');
    drawRich(ctx, [{ t: 'm', s: 29, it: true }, { t: 'a', s: 19, it: true, dy: 6 }, { t: ' [eV]', s: 29 }], (a.left + a.right) / 2, 417, 0, 'center');
  },
};

const botPanel: Panel = {
  w: 540, h: 247, xr: BOT_X, yr: BOT_Y, pad: { top: 31.6, right: 2, bottom: 0, left: 0 }, xH: 60, yW: 67.5, xPos: 'bottom',
  regions: BOT_REGIONS, labels: BOT_LABELS, frame: 1.2,
  tick: { xMaj: 6, xMin: 3, yMaj: 6, yMin: 3 },
  decorate: (ctx, chart) => {
    const a = chart.chartArea;
    const xs = chart.scales.x;
    const ys = chart.scales.y;
    for (let n = BOT_X[0]; n <= Math.floor(BOT_X[1]); n++) drawPow(ctx, n, xs.getPixelForValue(Math.pow(10, n)) - 5, a.bottom + 12, 10, 'center', 35);
    for (let n = BOT_Y[0]; n <= BOT_Y[1]; n++) drawPow(ctx, n, a.left - 5.5, ys.getPixelForValue(Math.pow(10, n)), 12.5, 'right', 0);
    drawRich(ctx, [{ t: 'm', s: 25, it: true }, { t: 'a', s: 17, it: true, dy: 5 }, { t: ' [eV]', s: 25 }], (a.left + a.right) / 2, 237, 0, 'center');
    drawRich(ctx, [
      { t: '|', s: 26 }, { t: 'g', s: 26, it: true }, { t: 'ae', s: 17, it: true, dy: 6 },
      { t: '|', s: 26 },
    ], 22, 56, -90, 'left');
  },
};

function ChartCanvas({ panel, left, top, z }: { panel: Panel; left: number; top: number; z: number }) {
  const ref = useRef<HTMLCanvasElement>(null);
  useEffect(() => {
    const chart = buildChart(ref.current as HTMLCanvasElement, panel);
    return () => chart.destroy();
  }, []);
  return (
    <canvas
      ref={ref}
      width={panel.w}
      height={panel.h}
      style={{ position: 'absolute', left, top, width: panel.w, height: panel.h, background: '#fff', zIndex: z, display: 'block' }}
    />
  );
}

export default function App() {
  return (
    <div style={{ position: 'absolute', left: 0, top: 0, width: 636, height: 807, background: '#212121', overflow: 'hidden' }}>
      <ChartCanvas panel={topPanel} left={62} top={0} z={1} />
      <ChartCanvas panel={botPanel} left={61} top={560} z={1} />
      <ChartCanvas panel={midPanel} left={15} top={166} z={2} />
    </div>
  );
}
